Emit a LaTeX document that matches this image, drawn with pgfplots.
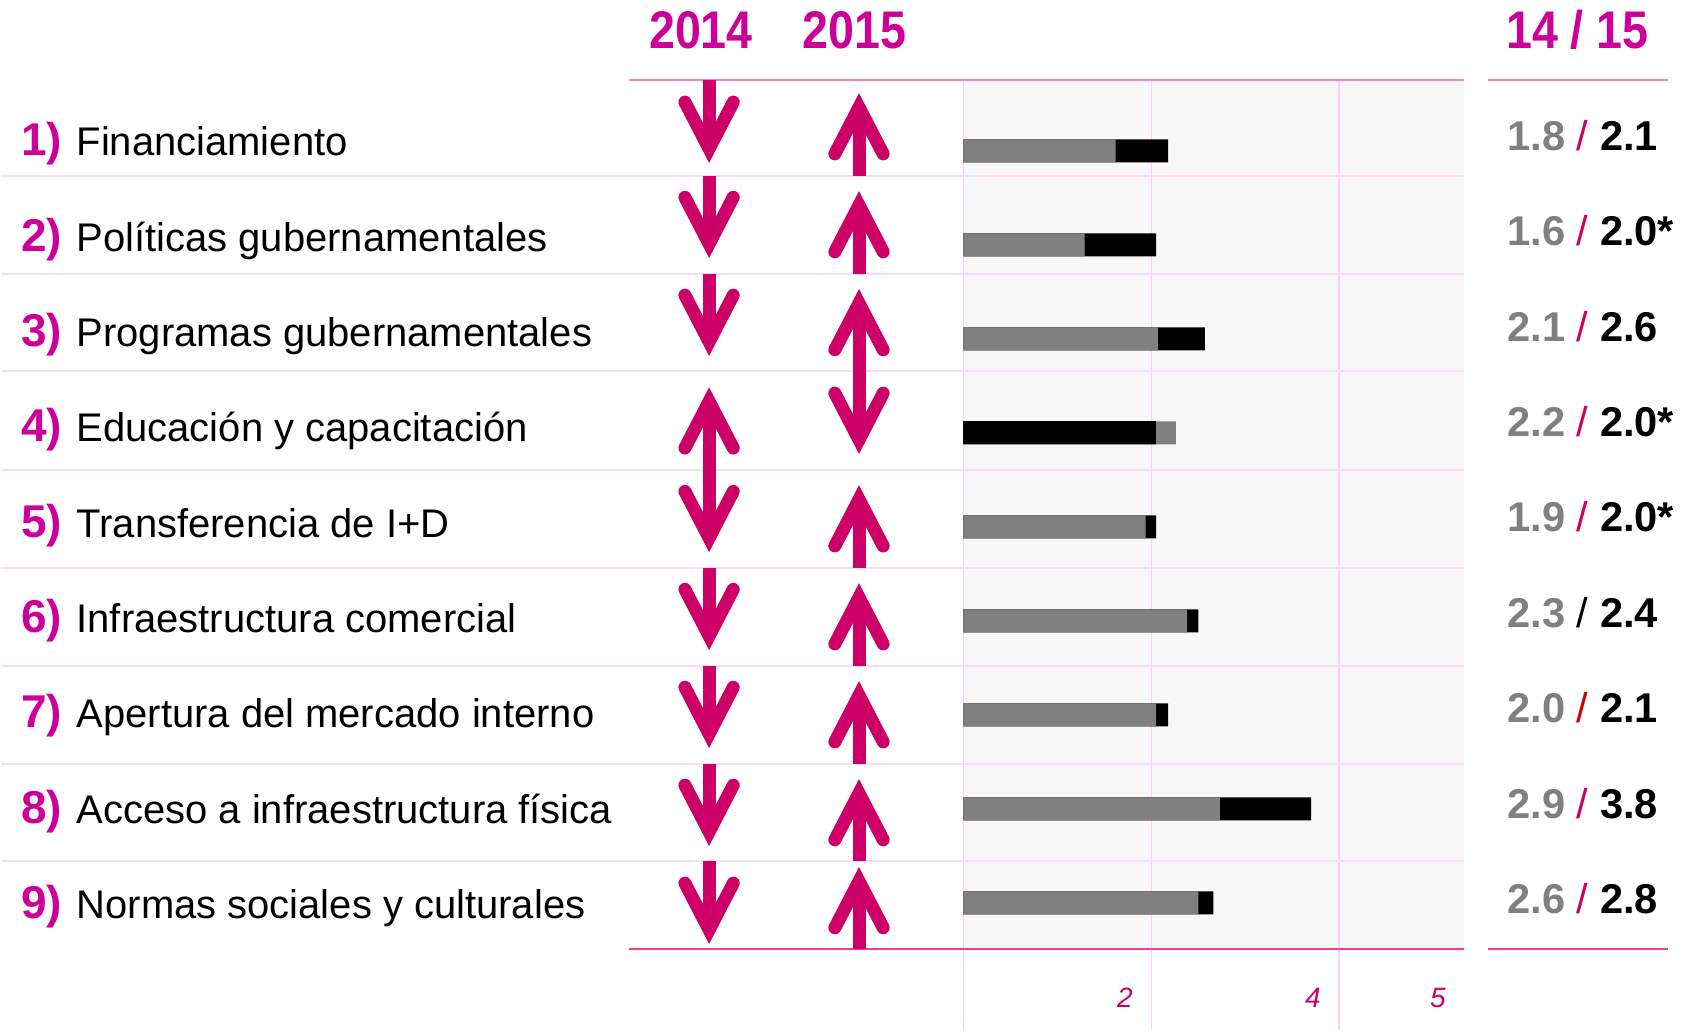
\documentclass[border=0pt]{standalone}
\usepackage{fontspec}
\setmainfont{Liberation Sans}
\newfontfamily\headfont[FakeStretch=0.88]{Liberation Sans}
\usepackage{pgfplots}
\usepackage{pgfplotstable}
\pgfplotsset{compat=1.18}
\usetikzlibrary{arrows.meta}

\definecolor{mag}{HTML}{CC0099}
\definecolor{arr}{HTML}{CC0066}
\definecolor{topline}{HTML}{FF80C0}
\definecolor{botline}{HTML}{F23C9B}
\definecolor{sep}{HTML}{FCD9F7}
\definecolor{vgrid}{HTML}{FAD2F5}
\definecolor{bgc}{HTML}{F7F7F7}
\definecolor{barg}{HTML}{808080}
\definecolor{numg}{HTML}{808080}
\definecolor{redsl}{HTML}{CC0000}

% bar lengths as drawn (row, 2014, 2015)
\pgfplotstableread{
row v14 v15
1 1.62 2.18
2 1.29 2.05
3 2.07 2.57
4 2.26 2.05
5 1.94 2.05
6 2.38 2.50
7 2.05 2.18
8 2.73 3.70
9 2.50 2.66
}\bars

% arrows: x, y (start), u, v  (picture units)
\pgfplotstableread{
x y u v
708.5 950.5 0 -82.5
708.5 855.3 0 -82.5
708.5 757.3 0 -82.5
708.5 561.0 0 82.5
708.5 561.0 0 -82.5
708.5 463.0 0 -82.5
708.5 365.0 0 -82.5
708.5 267.0 0 -82.5
708.5 169.0 0 -82.5
858.5 855.3 0 82.5
858.5 757.3 0 82.5
858.5 659.3 0 82.5
858.5 659.3 0 -82.5
858.5 463.0 0 82.5
858.5 365.0 0 82.5
858.5 267.0 0 82.5
858.5 169.0 0 82.5
858.5 81.0 0 82.5
}\arrows

\newcommand{\lab}[3]{%
  \node[anchor=base west, inner sep=0, text=mag, font=\bfseries\fontsize{13.8}{16}\selectfont] at (axis cs:19.5,#1) {#2)};
  \node[anchor=base west, inner sep=0, font=\fontsize{12}{14}\selectfont] at (axis cs:75,#1) {#3};}
\newcommand{\val}[4]{%
  \node[anchor=base west, inner sep=0, font=\bfseries\fontsize{12.5}{14}\selectfont] at (axis cs:1506.7,#1) {\textcolor{numg}{#2} \textcolor{#4}{\mdseries/} #3};}

\begin{document}
\begin{tikzpicture}
\begin{axis}[at={(0,0)}, anchor=south west, width=511.2pt, height=309.3pt,
  scale only axis, xmin=0, xmax=1704, ymin=0, ymax=1031, hide axis, clip=false]
\path (axis cs:0,0) rectangle (axis cs:1704,1031);
\fill[bgc] (axis cs:963,81) rectangle (axis cs:1464,950.5);
\draw[vgrid, line width=0.45pt] (axis cs:963,950.5) -- (axis cs:963,0);
\draw[vgrid, line width=0.45pt] (axis cs:1151,950.5) -- (axis cs:1151,0);
\draw[vgrid, line width=0.45pt] (axis cs:1338.6,950.5) -- (axis cs:1338.6,0);
\draw[sep, line width=0.6pt] (axis cs:0,855.3) -- (axis cs:1464,855.3);
\draw[sep, line width=0.6pt] (axis cs:0,757.3) -- (axis cs:1464,757.3);
\draw[sep, line width=0.6pt] (axis cs:0,659.3) -- (axis cs:1464,659.3);
\draw[sep, line width=0.6pt] (axis cs:0,561) -- (axis cs:1464,561);
\draw[sep, line width=0.6pt] (axis cs:0,463) -- (axis cs:1464,463);
\draw[sep, line width=0.6pt] (axis cs:0,365) -- (axis cs:1464,365);
\draw[sep, line width=0.6pt] (axis cs:0,267) -- (axis cs:1464,267);
\draw[sep, line width=0.6pt] (axis cs:0,169) -- (axis cs:1464,169);
\draw[topline, line width=0.6pt] (axis cs:628,950.5) -- (axis cs:1464,950.5);
\draw[topline, line width=0.6pt] (axis cs:1488,950.5) -- (axis cs:1668,950.5);
\draw[botline, line width=0.6pt] (axis cs:628,81) -- (axis cs:1464,81);
\draw[botline, line width=0.6pt] (axis cs:1488,81) -- (axis cs:1668,81);

\addplot[arr, line width=3.9pt, quiver={u=\thisrow{u}, v=\thisrow{v}},
  -{Straight Barb[length=14pt, width=14.5pt, line cap=round, line join=miter]}]
  table[x=x, y=y] {\arrows};

\node[anchor=base, inner sep=0, text=mag, font=\headfont\bfseries\fontsize{15.9}{18}\selectfont] at (axis cs:700.4,982) {2014};
\node[anchor=base, inner sep=0, text=mag, font=\headfont\bfseries\fontsize{15.9}{18}\selectfont] at (axis cs:854,982) {2015};
\node[anchor=base, inner sep=0, text=mag, font=\headfont\bfseries\fontsize{15.9}{18}\selectfont] at (axis cs:1577.3,982) {14 / 15};

\lab{875}{1}{Financiamiento}
\lab{779.6}{2}{Políticas gubernamentales}
\lab{684.2}{3}{Programas gubernamentales}
\lab{588.8}{4}{Educación y capacitación}
\lab{493.4}{5}{Transferencia de I+D}
\lab{398}{6}{Infraestructura comercial}
\lab{302.6}{7}{Apertura del mercado interno}
\lab{207.2}{8}{Acceso a infraestructura física}
\lab{111.8}{9}{Normas sociales y culturales}

\val{880.3}{1.8}{2.1}{arr}
\val{784.9}{1.6}{2.0*}{arr}
\val{689.5}{2.1}{2.6}{arr}
\val{594.1}{2.2}{2.0*}{arr}
\val{498.7}{1.9}{2.0*}{arr}
\val{403.3}{2.3}{2.4}{black}
\val{307.9}{2.0}{2.1}{redsl}
\val{212.5}{2.9}{3.8}{arr}
\val{117.1}{2.6}{2.8}{arr}
\end{axis}

\begin{axis}[at={(288.9pt,24.3pt)}, anchor=south west, width=150.3pt, height=260.85pt,
  scale only axis, xmin=0, xmax=5.33, ymin=0.505, ymax=9.75,
  axis line style={draw=none}, tick style={draw=none}, major tick length=0pt,
  ytick=\empty, xtick={2,4,5.33}, xticklabels={2,4,5},
  xticklabel style={anchor=base, xshift=-7.9pt, yshift=-17.4pt, text=arr,
    font=\itshape\fontsize{8.4}{10}\selectfont},
  clip=false]
\addplot[xbar, bar width=0.245, bar shift=0pt, fill=black, draw=none]
  table[x=v15, y expr=10-\thisrow{row}] {\bars};
\addplot[xbar, bar width=0.245, bar shift=0pt, fill=barg, draw=none]
  table[x=v14, y expr=10-\thisrow{row}] {\bars};
\addplot[xbar, bar width=0.245, bar shift=0pt, fill=black, draw=none,
  skip coords between index={0}{3}, skip coords between index={4}{9}]
  table[x=v15, y expr=10-\thisrow{row}] {\bars};
\end{axis}
\end{tikzpicture}
\end{document}
